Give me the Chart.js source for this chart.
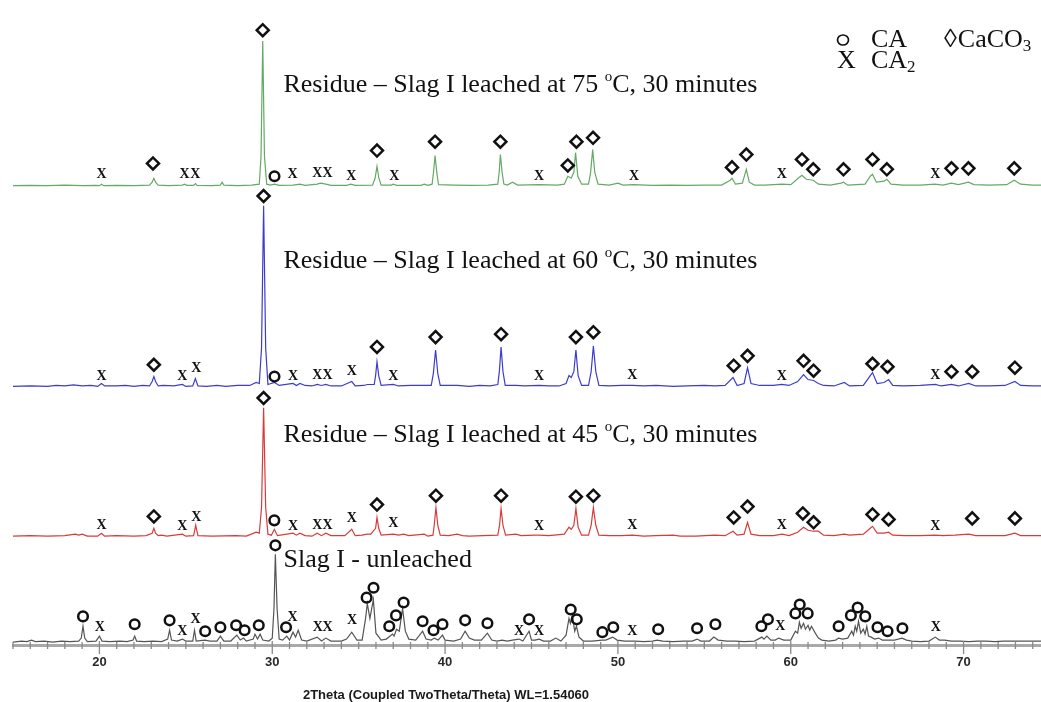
<!DOCTYPE html>
<html><head><meta charset="utf-8">
<script src="https://cdn.jsdelivr.net/npm/chart.js@4.4.1/dist/chart.umd.min.js"></script>
<style>
html,body{margin:0;padding:0;background:#fff;overflow:hidden;width:1041px;height:702px}
#wrap{position:absolute;left:0;top:0;width:1060px;height:702px}
</style></head>
<body><div id="wrap"><canvas id="c" width="1060" height="702"></canvas></div>
<script>
// ---------- DATA (2Theta in degrees, intensity in arbitrary counts above each trace's baseline) ----------
const xTicks = [20, 30, 40, 50, 60, 70];
const axisTitle = '2Theta (Coupled TwoTheta/Theta) WL=1.54060';

const green75 = [[15,0.5],[16,0.8],[17,0.5],[18,1],[19,0.6],[19.8,0.8],[20.0,0.5],[20.12,2],[20.25,0.5],[21,0.8],[22,0.5],[22.9,1],[23.05,4],[23.15,8],[23.25,4],[23.4,1],[24,0.6],[24.8,1],[24.93,2],[25.05,0.8],[25.45,0.8],[25.55,2.5],[25.65,0.8],[26.5,0.6],[27.0,1],[27.1,4],[27.2,1],[28,0.6],[28.8,1],[29.25,2],[29.35,30],[29.45,147],[29.55,30],[29.68,2],[29.9,1],[30.13,2],[30.4,0.8],[31.2,1],[31.6,2],[31.9,0.8],[32.6,2],[32.8,3],[33.1,2],[33.4,0.8],[34.3,0.8],[34.55,2],[34.8,0.8],[35.8,1],[35.95,8],[36.06,20],[36.17,8],[36.3,1],[36.9,1],[37.0,2],[37.2,0.8],[38.6,0.8],[38.8,2],[39.0,0.8],[39.25,2],[39.33,14],[39.42,31],[39.52,14],[39.62,1.5],[40.5,1],[41.5,0.8],[42.5,1],[43.05,2],[43.13,14],[43.2,32],[43.3,14],[43.4,2],[43.6,1],[43.9,4],[44.2,1],[45.44,1.5],[46.5,1],[46.9,2],[47.1,10],[47.3,8],[47.45,14],[47.55,34],[47.68,10],[47.9,2],[48.3,2],[48.42,14],[48.54,37],[48.66,14],[48.85,2],[49.5,1],[50.0,3],[50.3,1],[50.9,1.5],[52,0.8],[53,1],[54,0.8],[55,1],[56,1],[56.5,6],[56.6,8],[56.8,2],[57.2,3],[57.43,17],[57.6,4],[57.9,1],[58.5,1],[59.5,2],[60,1.5],[60.5,9],[60.65,11],[60.9,7],[61.3,6],[61.6,2],[62.3,1],[62.9,3],[63.05,4],[63.3,1],[64.3,2],[64.6,10],[64.73,12],[64.95,4],[65.4,5],[65.56,7],[65.8,2],[66.5,1],[67.5,1],[68.35,2],[68.8,1],[69.3,3],[69.7,1.5],[70.28,4],[70.6,1.5],[71.5,1],[72.5,1.5],[72.93,6],[73.3,2],[74,1],[75,1]];

const blue60 = [[15,1],[16,1.5],[17,1],[17.5,2],[18,1.5],[18.5,2.5],[19,1.5],[19.5,2],[19.9,1],[20.12,4],[20.3,1.5],[21,1.5],[21.5,2],[22,1],[22.5,2],[22.9,1.5],[23.05,6],[23.15,11],[23.25,6],[23.4,1.5],[23.7,2],[24.3,1.5],[24.8,3],[25.0,1],[25.4,1.5],[25.55,9],[25.7,1.5],[26.2,1],[26.8,2],[27.3,1],[28,2],[28.7,2],[29.07,5],[29.25,4],[29.38,40],[29.5,184],[29.62,40],[29.75,3],[30.13,5],[30.4,2],[31.2,4],[31.4,2],[31.6,4],[31.9,2],[32.3,1.5],[32.6,3],[32.85,2],[33.1,3],[33.4,1.5],[34,1.5],[34.6,6],[34.8,1.5],[35.3,2],[35.5,3],[35.9,3],[35.98,12],[36.06,26],[36.16,12],[36.3,2],[37.0,3],[37.3,1.5],[38,2],[38.86,2],[39.2,2],[39.32,14],[39.45,38],[39.58,14],[39.72,2],[40.2,2],[40.7,2],[41.4,1],[42,2],[42.6,1.5],[43.05,3],[43.14,16],[43.24,41],[43.35,16],[43.48,2],[44.1,2],[44.6,1.5],[45.44,2],[46,1.5],[46.6,1.5],[47.0,4],[47.17,12],[47.3,10],[47.45,16],[47.57,38],[47.7,12],[47.9,2],[48.3,2],[48.45,16],[48.58,42],[48.72,16],[48.9,2],[49.5,1.5],[50.2,2],[50.83,2],[51.5,1.5],[52.2,2],[53.2,1],[54,1.5],[55,2],[55.6,1.5],[56.2,2],[56.66,10],[56.9,2],[57.3,4],[57.5,20],[57.7,4],[58.2,2],[59,2],[59.48,3],[59.9,2],[60.4,6],[60.74,13],[61.0,8],[61.32,7],[61.6,4],[61.9,2],[62.5,1.5],[63.1,5],[63.4,1.5],[64.2,2],[64.6,12],[64.73,15],[65.0,4],[65.4,5],[65.66,8],[65.9,2],[66.5,1.5],[67.5,2],[68.37,3],[68.7,1.5],[69.3,3],[69.7,1.5],[70.3,4],[70.7,1.5],[71.5,1.5],[72.4,2],[72.97,6],[73.3,2],[74,1.5],[75,1.5]];

const red45 = [[15,1],[16,1.5],[17,1],[18,1.5],[18.6,3],[18.8,2],[19.0,3],[19.3,1],[19.9,1],[20.12,4],[20.3,1],[21,1.5],[22,1],[22.7,1.5],[23.05,4],[23.15,9],[23.25,4],[23.4,1.5],[23.6,2],[23.9,1],[24.8,3],[25.0,1],[25.45,1.5],[25.57,12],[25.7,1.5],[26.5,1],[27.9,1.5],[28.5,1],[29.07,5],[29.25,4],[29.38,30],[29.5,131],[29.62,30],[29.75,3],[29.95,2],[30.12,8],[30.3,1.5],[31.2,4],[31.4,2],[31.6,4],[31.9,1.5],[32.3,1],[32.6,4],[32.85,1.5],[33.1,4],[33.4,1.5],[34.2,1.5],[34.6,8],[34.8,1.5],[35.2,2],[35.5,3],[35.7,3],[35.98,9],[36.06,20],[36.16,9],[36.3,2],[37.0,3],[37.3,2],[37.6,3],[37.9,1.5],[38.8,3],[39.0,1],[39.3,2],[39.37,12],[39.47,30],[39.58,12],[39.72,2],[40.2,1.5],[40.7,3],[41.0,1.5],[41.4,1],[42.2,1.5],[43.05,2],[43.15,12],[43.24,29],[43.35,12],[43.5,2],[44.1,3],[44.4,1.5],[45.2,2],[45.44,2],[46,1.5],[46.9,3],[47.17,10],[47.3,8],[47.45,12],[47.57,29],[47.7,10],[47.9,2],[48.3,2],[48.45,12],[48.58,30],[48.72,12],[48.9,2],[49.5,1.5],[50.2,1.5],[50.83,2],[51.5,1],[52.2,1.5],[53.2,2],[53.6,1],[54.5,1],[55.6,2],[56.2,1.5],[56.66,6],[56.9,2],[57.3,3],[57.5,15],[57.7,3],[58.2,1.5],[59.0,1.5],[59.5,3],[59.9,1.5],[60.4,5],[60.74,10],[61.0,7],[61.3,6],[61.6,6],[61.9,2],[62.5,1.5],[63.1,3],[63.4,2],[64.2,3],[64.6,9],[64.73,11],[65.0,4],[65.4,4],[65.66,5],[65.9,2],[66.6,1.5],[67.5,1.5],[68.37,2],[68.8,1.5],[69.5,2],[70.3,3],[70.7,1.5],[71.5,1.5],[72.4,1.5],[72.97,4],[73.3,1.5],[74,1.5],[75,1.5]];

const blackUnleached = [[15,1],[15.5,2],[15.8,1.5],[16.07,3],[16.3,1.5],[16.8,2],[17.3,1],[17.8,2],[18.3,1.5],[18.8,2],[18.95,5],[19.05,17],[19.15,5],[19.3,1.5],[19.8,2],[20.0,7],[20.15,2],[20.6,1.5],[21.2,2],[21.6,1.5],[21.95,3],[22.04,7],[22.15,2],[22.6,1.5],[23.1,2],[23.6,1.5],[23.95,4],[24.06,13],[24.17,3],[24.5,2],[24.8,4],[25.0,2],[25.4,2],[25.5,13],[25.6,2],[26.1,3],[26.4,2],[26.8,2],[27.0,7],[27.2,2],[27.6,2],[27.95,8],[28.15,3],[28.34,5],[28.5,2],[28.9,4],[29.0,9],[29.15,4],[29.3,9],[29.45,3],[29.8,2],[30.0,5],[30.1,35],[30.18,90],[30.28,35],[30.4,4],[30.6,3],[30.84,7],[31.0,3],[31.2,11],[31.35,6],[31.5,13],[31.7,3],[32.0,2],[32.6,6],[32.85,2],[33.1,5],[33.4,2],[34.0,2],[34.3,4],[34.6,11],[34.9,3],[35.2,3],[35.4,25],[35.5,40],[35.65,25],[35.85,44],[36.0,10],[36.3,3],[36.6,4],[36.96,9],[37.05,7],[37.19,14],[37.35,12],[37.54,35],[37.7,12],[37.9,4],[38.3,3],[38.7,12],[38.9,4],[39.2,3],[39.37,5],[39.6,3],[39.85,8],[40.0,3],[40.5,2],[40.9,4],[41.16,12],[41.4,5],[41.7,3],[42.1,3],[42.45,10],[42.7,3],[43.0,2],[43.3,3],[43.6,2],[43.9,3],[44.28,4],[44.5,2],[44.86,12],[45.0,3],[45.2,3],[45.44,4],[45.7,2],[46.1,2],[46.4,5],[46.7,2],[47.0,8],[47.17,25],[47.25,20],[47.36,28],[47.5,12],[47.6,17],[47.75,6],[48.0,2],[48.5,2],[49.1,3],[49.3,3],[49.7,6],[49.95,3],[50.4,2],[51.0,2],[51.5,1.5],[52.0,2],[52.27,3],[52.6,2],[53.2,1.5],[53.8,2],[54.3,2],[54.58,4],[54.8,2],[55.3,2],[55.55,6],[55.8,3],[56.3,2],[56.8,2],[57.3,1.5],[57.9,2],[58.33,6],[58.45,4],[58.62,7],[58.85,3],[59.1,3],[59.3,5],[59.6,3],[60.0,3],[60.27,12],[60.4,10],[60.5,21],[60.6,15],[60.74,20],[60.85,14],[61.0,18],[61.1,13],[61.2,17],[61.42,10],[61.6,5],[61.8,3],[62.2,2],[62.6,3],[62.77,5],[63.0,4],[63.3,5],[63.53,12],[63.63,8],[63.73,17],[63.82,12],[63.92,22],[64.05,10],[64.2,14],[64.3,9],[64.4,17],[64.5,7],[64.65,6],[64.85,4],[65.08,5],[65.3,3],[65.66,3],[66.0,3],[66.43,5],[66.7,3],[67.0,2],[67.5,1.5],[68.0,2],[68.36,6],[68.6,3],[68.9,3],[69.3,2],[69.8,2],[70.3,1.5],[70.8,2],[71.3,2],[71.8,1.5],[72.3,2],[72.8,2],[73.3,2],[73.8,2],[74.3,2],[75,2]];

// phase markers: [2Theta, height above trace baseline]
const greenCaCO3 = [[29.45,158],[23.1,23],[36.06,36],[39.42,45],[43.2,45],[47.1,21],[47.6,45],[48.56,49],[56.6,19],[57.43,32],[60.65,27],[61.3,17],[63.05,17],[64.73,27],[65.56,17],[69.3,18],[70.28,18],[72.93,18]];
const greenCA2 = [[20.12,12],[24.93,12],[25.55,12],[31.17,12],[32.6,13],[33.2,13],[34.58,10],[37.06,10],[45.44,10],[50.93,10],[59.48,12],[68.37,12]];
const greenCA = [[30.13,10]];

const blueCaCO3 = [[29.5,194],[23.15,23],[36.06,41],[39.45,51],[43.24,54],[47.57,51],[48.58,56],[56.7,22],[57.5,32],[60.74,27],[61.32,17],[64.73,24],[65.6,21],[69.3,16],[70.5,16],[72.97,20]];
const blueCA2 = [[20.12,11],[24.8,11],[25.6,19],[31.2,11],[32.6,12],[33.2,12],[34.6,16],[37.0,11],[45.44,11],[50.83,12],[59.48,11],[68.37,12]];
const blueCA = [[30.13,11]];

const redCaCO3 = [[29.5,141],[23.15,21],[36.06,33],[39.47,42],[43.24,42],[47.57,41],[48.58,42],[56.7,20],[57.5,31],[60.7,24],[61.32,15],[64.73,23],[65.66,18],[70.5,19],[72.97,19]];
const redCA2 = [[20.12,12],[24.8,11],[25.6,20],[31.2,11],[32.6,12],[33.2,12],[34.6,19],[37.0,14],[45.44,11],[50.83,12],[59.48,12],[68.37,11]];
const redCA = [[30.12,17]];

const blackCA = [[19.05,27],[22.04,19],[24.06,23],[26.12,12],[27.0,16],[27.91,18],[28.4,13],[29.22,18],[30.18,99],[30.8,16],[35.46,46],[35.86,56],[36.77,17],[37.16,28],[37.6,41],[38.7,22],[39.33,13],[39.85,19],[41.16,23],[42.45,20],[44.86,24],[47.27,34],[47.62,24],[49.1,11],[49.73,16],[52.33,14],[54.58,15],[55.64,19],[58.3,17],[58.68,24],[60.27,30],[60.52,39],[60.98,30],[62.77,17],[63.48,28],[63.87,36],[64.31,27],[65.02,16],[65.6,12],[66.46,15]];
const blackCA2 = [[20.02,16],[24.8,12],[25.56,24],[31.18,26],[32.63,16],[33.2,16],[34.62,23],[44.28,12],[45.44,12],[50.83,12],[59.4,17],[68.39,16]];

const traceNames = ['Residue – Slag I leached at 75 |o|C, 30 minutes', 'Residue – Slag I leached at 60 |o|C, 30 minutes', 'Residue – Slag I leached at 45 |o|C, 30 minutes', 'Slag I - unleached'];

// ---------- LAYOUT / STYLE ----------
const OFFSET = { green: 465, blue: 261, red: 109.3, black: 2 };
const COLORS = { green: 'rgb(100,170,100)', blue: 'rgb(60,60,205)', red: 'rgb(214,60,60)', black: 'rgb(85,85,85)' };
const labelAnchor = [[30.65, OFFSET.green + 102], [30.65, OFFSET.blue + 128], [30.65, OFFSET.red + 103], [30.65, OFFSET.black + 84]];

const sh = (arr, off) => arr.map(([x, y]) => ({ x, y: y + off }));

function line(data, off, color) {
  return { type: 'line', data: sh(data, off), borderColor: color, borderWidth: 1.2, pointRadius: 0, tension: 0, fill: false, clip: false, order: 5 };
}
function markers(data, style) {
  return { type: 'scatter', data, pointStyle: style, pointRadius: style === 'circle' ? 4.8 : 6, pointBorderWidth: 2.5,
           pointBorderColor: '#111', pointBackgroundColor: 'rgba(255,255,255,0)', showLine: false, clip: false, order: 1 };
}

const allCircles = [...sh(greenCA, OFFSET.green), ...sh(blueCA, OFFSET.blue), ...sh(redCA, OFFSET.red), ...sh(blackCA, OFFSET.black)];
const allDiamonds = [...sh(greenCaCO3, OFFSET.green), ...sh(blueCaCO3, OFFSET.blue), ...sh(redCaCO3, OFFSET.red)];
const allX = [...sh(greenCA2, OFFSET.green), ...sh(blueCA2, OFFSET.blue), ...sh(redCA2, OFFSET.red), ...sh(blackCA2, OFFSET.black)];

const decor = {
  id: 'decor',
  afterDatasetsDraw(chart) {
    const ctx = chart.ctx, xs = chart.scales.x, ys = chart.scales.y;
    ctx.save();
    // CA2 "X" labels
    ctx.fillStyle = '#111';
    ctx.font = 'bold 14px "Liberation Serif"';
    ctx.textAlign = 'center'; ctx.textBaseline = 'middle';
    allX.forEach(p => ctx.fillText('X', xs.getPixelForValue(p.x), ys.getPixelForValue(p.y)));
    // trace names
    ctx.textAlign = 'left';
    traceNames.forEach((t, i) => {
      let x = xs.getPixelForValue(labelAnchor[i][0]);
      const y = ys.getPixelForValue(labelAnchor[i][1]);
      t.split('|').forEach((part, k) => {
        if (k === 1) {
          ctx.font = '15px "Liberation Serif"';
          ctx.fillText(part, x, y - 8);
        } else {
          ctx.font = '26px "Liberation Serif"';
          ctx.fillText(part, x, y);
        }
        x += ctx.measureText(part).width;
      });
    });
    ctx.restore();
  },
  afterDraw(chart) {
    const ctx = chart.ctx, xs = chart.scales.x;
    const y0 = chart.chartArea.bottom;
    ctx.save();
    ctx.strokeStyle = '#8a8a8a'; ctx.lineWidth = 1.3;
    for (let v = Math.ceil(xs.min); v <= xs.max; v++) {
      const px = xs.getPixelForValue(v);
      const major = xTicks.includes(v);
      ctx.beginPath(); ctx.moveTo(px, y0 - (major ? 4 : 3)); ctx.lineTo(px, y0 + (major ? 9 : 4)); ctx.stroke();
    }
    // axis title
    ctx.fillStyle = '#1a1a1a';
    ctx.font = 'bold 13px "Liberation Sans"';
    ctx.textAlign = 'center'; ctx.textBaseline = 'middle';
    ctx.fillText(axisTitle, 446, 695);
    // legend
    ctx.fillStyle = '#111'; ctx.strokeStyle = '#111'; ctx.lineWidth = 1.7;
    ctx.textAlign = 'left';
    ctx.beginPath(); ctx.ellipse(843, 40, 5.5, 5, 0, 0, Math.PI * 2); ctx.stroke();
    ctx.font = '26px "Liberation Serif"';
    ctx.fillText('CA', 871, 40);
    let lx = 944;
    ctx.fillText('\u25CA', lx, 40); lx += ctx.measureText('\u25CA').width + 1;
    ctx.fillText('CaCO', lx, 40); lx += ctx.measureText('CaCO').width;
    ctx.font = '17px "Liberation Serif"'; ctx.fillText('3', lx, 47);
    ctx.font = '26px "Liberation Serif"';
    ctx.fillText('X', 837, 61);
    ctx.fillText('CA', 871, 61); lx = 871 + ctx.measureText('CA').width;
    ctx.font = '17px "Liberation Serif"'; ctx.fillText('2', lx, 68);
    ctx.restore();
  }
};

new Chart(document.getElementById('c'), {
  data: {
    datasets: [
      markers(allCircles, 'circle'),
      markers(allDiamonds, 'rectRot'),
      line(green75, OFFSET.green, COLORS.green),
      line(blue60, OFFSET.blue, COLORS.blue),
      line(red45, OFFSET.red, COLORS.red),
      line(blackUnleached, OFFSET.black, COLORS.black)
    ]
  },
  options: {
    responsive: false, animation: false, devicePixelRatio: 1,
    layout: { padding: { left: 13, right: 8, top: 0, bottom: 0 } },
    plugins: { legend: { display: false }, tooltip: { enabled: false } },
    scales: {
      x: {
        type: 'linear', min: 15, max: 75,
        afterFit: s => { s.height = 57; },
        grid: { display: false, drawTicks: false },
        border: { display: true, color: '#a9a9a9', width: 3 },
        ticks: { stepSize: 1, autoSkip: false, maxRotation: 0, padding: 10,
                 callback: v => (xTicks.includes(v) ? String(v) : ''),
                 color: '#2a2a2a', font: { family: 'Liberation Sans', weight: 'bold', size: 13 } }
      },
      y: { type: 'linear', min: 0, max: 645, display: false }
    }
  },
  plugins: [decor]
});
</script>
</body></html>
